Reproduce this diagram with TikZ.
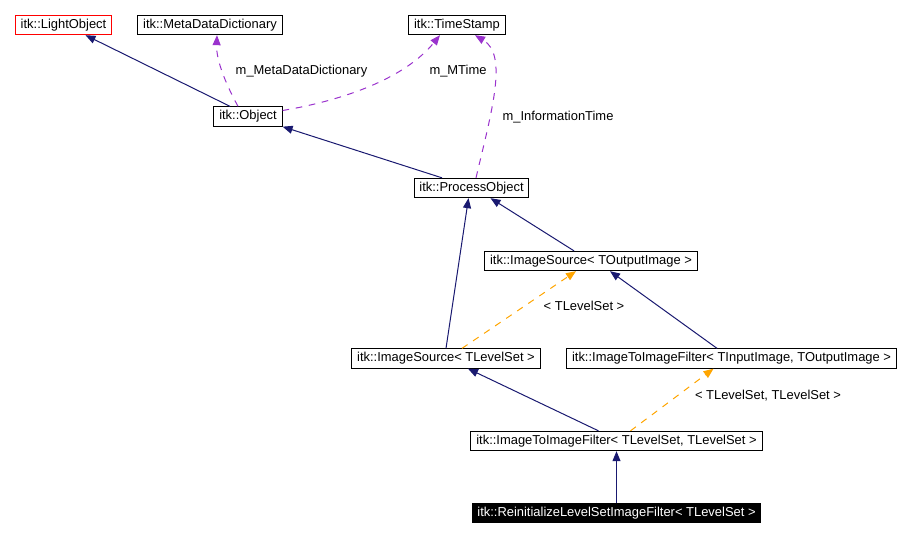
\documentclass[tikz,border=0pt]{standalone}
\usepackage{fontspec}
\setmainfont{Liberation Sans}
\usetikzlibrary{arrows.meta,calc}
\definecolor{inhblue}{HTML}{191970}
\definecolor{usepurple}{HTML}{9A32CD}
\definecolor{tmplorange}{HTML}{FFA500}

\begin{document}
\begin{tikzpicture}[x=0.75pt,y=-0.75pt,
  cls/.style={draw,rectangle,line width=0.75pt,inner xsep=4pt,inner ysep=0pt,
    minimum height=14.5pt,font=\fontsize{9.7}{12}\selectfont},
  inh/.style={inhblue,line width=0.75pt,-{Triangle[length=7.5pt,width=6pt]}},
  use/.style={usepurple,line width=0.75pt,dash pattern=on 5pt off 5pt,
    -{Triangle[length=7.5pt,width=6pt]}},
  tmpl/.style={tmplorange,line width=0.75pt,dash pattern=on 5pt off 5pt,
    -{Triangle[length=7.5pt,width=6pt]}},
  lbl/.style={inner sep=0pt,font=\fontsize{9.7}{12}\selectfont}]
\useasboundingbox (0,0) rectangle (913,537);

\node[cls,draw=red] (LObj) at (63.5,25) {itk::LightObject};
\node[cls] (MDD) at (210,25) {itk::MetaDataDictionary};
\node[cls] (TS) at (457,25) {itk::TimeStamp};
\node[cls] (Obj) at (248,116.5) {itk::Object};
\node[cls] (PObj) at (471.5,188) {itk::ProcessObject};
\node[cls] (ISrcOut) at (591,261) {itk::ImageSource< TOutputImage >};
\node[cls] (ISrcLS) at (446,358.5) {itk::ImageSource< TLevelSet >};
\node[cls] (IIFio) at (731.5,358.5) {itk::ImageToImageFilter< TInputImage, TOutputImage >};
\node[cls] (IIFls) at (616.5,441) {itk::ImageToImageFilter< TLevelSet, TLevelSet >};
\node[cls,fill=black,text=white] (RLS) at (616.5,513) {itk::ReinitializeLevelSetImageFilter< TLevelSet >};

% member labels
\node[lbl] (lMDD) at (301.5,71) {m\_MetaDataDictionary};
\node[lbl] (lMTime) at (458,71) {m\_MTime};
\node[lbl] (lInfo) at (558,117) {m\_InformationTime};
\node[lbl] (lTLS) at (584,306) {< TLevelSet >};
\node[lbl] (lTLS2) at (768,396) {< TLevelSet, TLevelSet >};

% inheritance
\draw[inh] ($(Obj.north)+(-18,0)$) -- ($(LObj.south)+(22,0)$);
\draw[inh] ($(PObj.north)+(-29.5,0)$) -- (Obj.south east);
\draw[inh] ($(ISrcOut.north)+(-17,0)$) -- ($(PObj.south)+(19,0)$);
\draw[inh] (ISrcLS.north) -- ($(PObj.south)+(-3,0)$);
\draw[inh] ($(IIFio.north)+(-14.5,0)$) -- ($(ISrcOut.south)+(19,0)$);
\draw[inh] ($(IIFls.north)+(-18,0)$) -- ($(ISrcLS.south)+(22,0)$);
\draw[inh] (RLS.north) -- (IIFls.south);

% usage
\draw[use] ($(Obj.north)+(-10,0)$) .. controls (228,88) and (216,62) .. ($(MDD.south)+(7,0)$);
\draw[use] ($(Obj.east)+(0,-6)$) .. controls (345,100) and (405,78) .. ($(TS.south)+(-17,0)$);
\draw[use] ($(PObj.north)+(4.5,0)$) .. controls (492,110) and (508,55) .. ($(TS.south)+(18,0)$);

% template instances
\draw[tmpl] ($(ISrcLS.north)+(16,0)$) -- ($(ISrcOut.south)+(-15,0)$);
\draw[tmpl] ($(IIFls.north)+(14,0)$) -- ($(IIFio.south)+(-18,0)$);
\end{tikzpicture}
\end{document}
